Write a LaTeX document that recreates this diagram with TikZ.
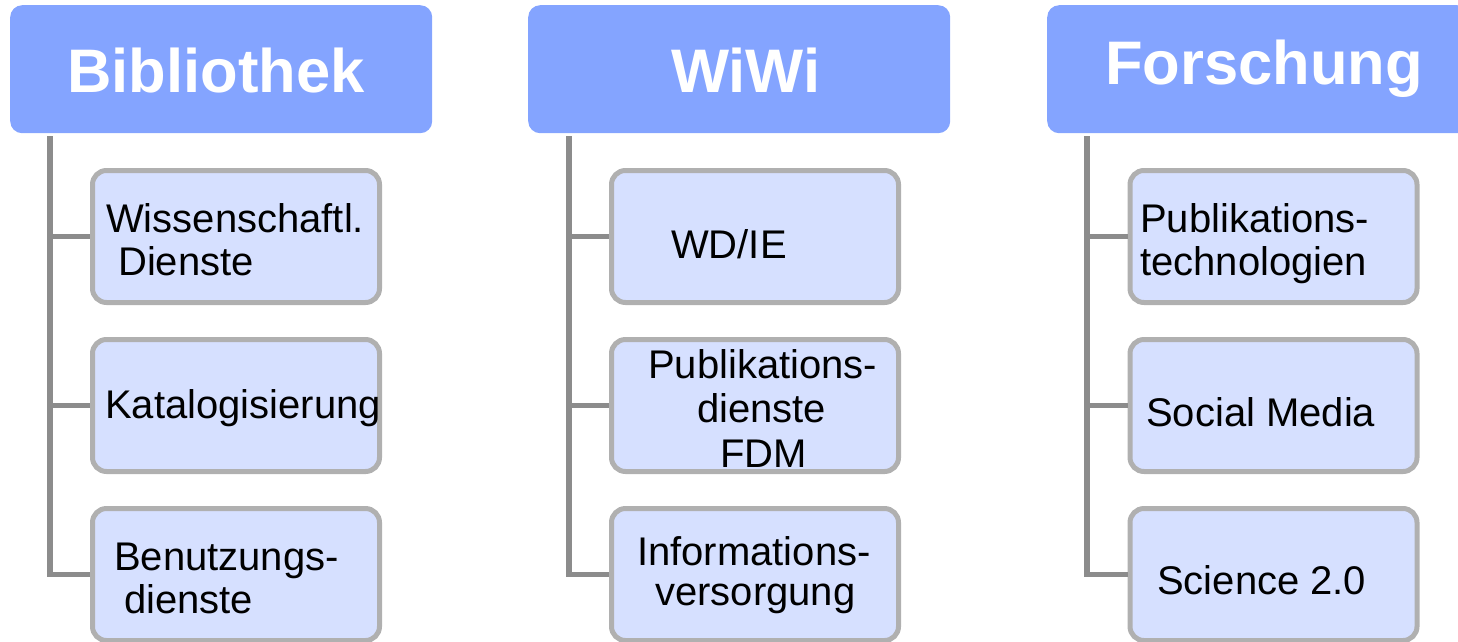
\documentclass[tikz,border=0pt]{standalone}
\usepackage{fontspec}
\setmainfont{Liberation Sans}
\definecolor{hdr}{RGB}{132,164,255}
\definecolor{cfill}{RGB}{214,224,255}
\definecolor{cborder}{RGB}{176,176,176}
\definecolor{conn}{RGB}{140,140,140}
\begin{document}
\begin{tikzpicture}[x=1pt,y=-1pt,
  hdrbox/.style={fill=hdr, rounded corners=12pt, minimum width=422pt, minimum height=128pt, anchor=north west, inner sep=0pt},
  childbox/.style={fill=cfill, draw=cborder, line width=5pt, rounded corners=14pt, minimum width=287pt, minimum height=132pt, anchor=north west, inner sep=0pt},
  hdrtxt/.style={anchor=base west, inner sep=0pt, text=white, font=\fontsize{61.5}{70}\selectfont\bfseries},
  ctxt/.style={anchor=base west, inner sep=0pt, font=\fontsize{40}{44}\selectfont},
  link/.style={draw=conn, line width=5.5pt}]
\useasboundingbox (0,0) rectangle (1458,641);
% headers
\node[hdrbox] (h1) at (10,5) {};
\node[hdrbox] (h2) at (528,5) {};
\node[hdrbox] (h3) at (1047,5) {};
\node[hdrtxt] (h1t) at (67,92) {Bibliothek};
\node[hdrtxt] (h2t) at (671,92.5) {WiWi};
\node[hdrtxt] (h3t) at (1105,84) {Forschung};
% child boxes
\foreach \c/\x in {1/90, 2/609, 3/1127.5}{
  \node[childbox] (c\c1) at (\x,168) {};
  \node[childbox] (c\c2) at (\x,337) {};
  \node[childbox] (c\c3) at (\x,506) {};
}
% connectors
\coordinate (s1) at (50,136);
\coordinate (s2) at (569,136);
\coordinate (s3) at (1087,136);
\foreach \c in {1,2,3}{
  \draw[link] (s\c) |- (c\c3.west);
  \draw[link] (s\c |- c\c1.west) -- (c\c1.west);
  \draw[link] (s\c |- c\c2.west) -- (c\c2.west);
}
% texts column 1
\node[ctxt] (t11a) at (106,232) {Wissenschaftl.};
\node[ctxt] (t11b) at (118,275) {Dienste};
\node[ctxt] (t12a) at (105,418) {Katalogisierung};
\node[ctxt] (t13a) at (114,570) {Benutzungs-};
\node[ctxt] (t13b) at (124,613) {dienste};
% texts column 2
\node[ctxt] (t21a) at (671,258) {WD/IE};
\node[ctxt] (t22a) at (648,378) {Publikations-};
\node[ctxt] (t22b) at (697,422) {dienste};
\node[ctxt] (t22c) at (720,467) {FDM};
\node[ctxt] (t23a) at (637,565) {Informations-};
\node[ctxt] (t23b) at (655,605) {versorgung};
% texts column 3
\node[ctxt] (t31a) at (1140,232) {Publikations-};
\node[ctxt] (t31b) at (1140,275) {technologien};
\node[ctxt] (t32a) at (1146,426) {Social Media};
\node[ctxt] (t33a) at (1157,594) {Science 2.0};
\end{tikzpicture}
\end{document}
